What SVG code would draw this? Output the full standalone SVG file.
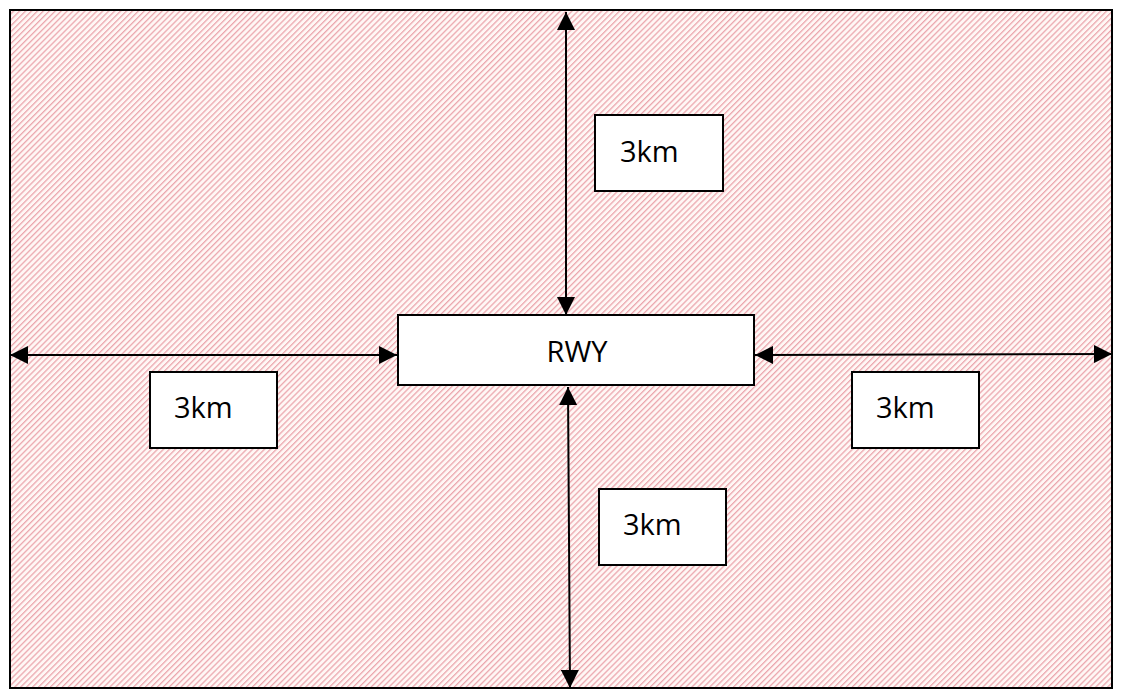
<svg xmlns="http://www.w3.org/2000/svg" width="1123" height="699" viewBox="0 0 1123 699">
<defs>
<pattern id="hatch" width="4.2" height="10" patternUnits="userSpaceOnUse" patternTransform="rotate(45)">
<rect width="4.2" height="10" fill="#fff7f5"/>
<rect x="0" width="1.3" height="10" fill="#eba7ae"/>
</pattern>
<marker id="ah" viewBox="0 0 18 18" refX="18" refY="9" markerWidth="18" markerHeight="18" markerUnits="userSpaceOnUse" orient="auto-start-reverse">
<path d="M0,0 L18,9 L0,18 Z" fill="#000"/>
</marker>
<style>
.box{fill:#fff;stroke:#000;stroke-width:2}
.lbl{font-family:"Open Sans","Liberation Sans",sans-serif;font-size:29px;fill:#000}
.arr{stroke:#000;stroke-width:2;fill:none;marker-start:url(#ah);marker-end:url(#ah)}
</style>
</defs>
<rect width="1123" height="699" fill="#fff"/>
<rect id="zone" x="10" y="10" width="1102" height="678" fill="url(#hatch)" stroke="#000" stroke-width="2"/>
<g id="connectors">
<line class="arr" x1="566" y1="12" x2="566" y2="315"/>
<line class="arr" x1="568" y1="387" x2="570" y2="688"/>
<line class="arr" x1="10" y1="355" x2="397" y2="355"/>
<line class="arr" x1="755" y1="355" x2="1112" y2="354"/>
</g>
<g id="rwy">
<rect class="box" x="398" y="315" width="356" height="70"/>
<text class="lbl" x="577" y="362" text-anchor="middle">RWY</text>
</g>
<g id="lbl-top">
<rect class="box" x="595" y="115" width="128" height="76"/>
<text class="lbl" x="620" y="162">3km</text>
</g>
<g id="lbl-left">
<rect class="box" x="150" y="372" width="127" height="76"/>
<text class="lbl" x="174" y="418">3km</text>
</g>
<g id="lbl-right">
<rect class="box" x="852" y="372" width="127" height="76"/>
<text class="lbl" x="876" y="418">3km</text>
</g>
<g id="lbl-bottom">
<rect class="box" x="599" y="489" width="127" height="76"/>
<text class="lbl" x="623" y="535">3km</text>
</g>
</svg>
